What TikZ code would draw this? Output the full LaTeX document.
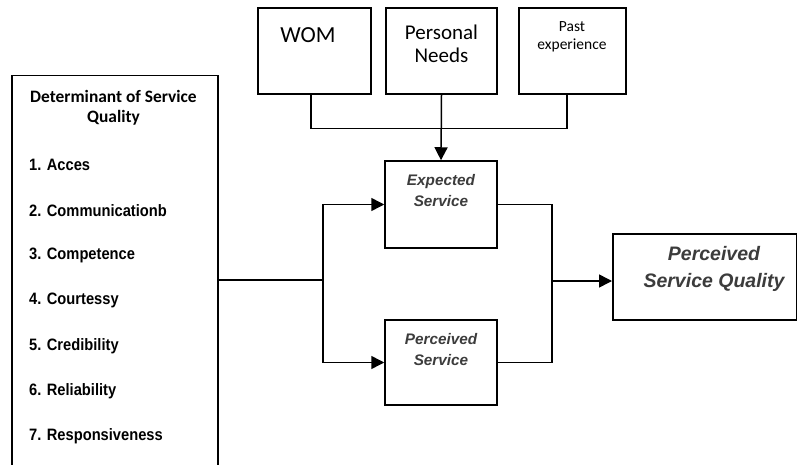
\documentclass[tikz,border=0pt]{standalone}
\usepackage{fontspec}
\setmainfont{Liberation Sans}
\newfontfamily\calib{Carlito}
\newfontfamily\narrowsans[FakeStretch=0.89]{Liberation Sans}
\usetikzlibrary{arrows.meta}
\definecolor{servgray}{HTML}{3C3C3C}
\tikzset{
  box/.style={draw=black, line width=1.5pt, fill=white, inner sep=0pt},
  wire/.style={draw=black, line width=1.5pt},
  arrow/.style={wire, -{Triangle[length=13pt,width=13pt]}},
  item/.style={anchor=west, inner sep=0pt, font=\narrowsans\bfseries\fontsize{16.5}{18}\selectfont},
  servtext/.style={align=center, inner sep=0pt, text=servgray,
    font=\bfseries\itshape\fontsize{15.3}{21}\selectfont},
}
\begin{document}
\begin{tikzpicture}[x=1pt, y=-1pt]
\clip (0,0) rectangle (797,465);
\fill[white] (0,0) rectangle (797,465);

% determinants of service quality (runs past the lower edge)
\node[box, minimum width=206pt, minimum height=420pt, anchor=north west] (det) at (11,75) {};
\node[align=center, inner sep=0pt, font=\calib\bfseries\fontsize{17.4}{20}\selectfont] (dettitle) at (113.5,108)
  {Determinant of Service\\Quality};
\foreach \t [count=\i from 0] in {1. Acces, 2. Communicationb, 3. Competence, 4. Courtessy,
  5. Credibility, 6. Reliability, 7. Responsiveness}
  \node[item] (it\i) at (29,165+45.2*\i) {\t};

% sources of expectation
\node[box, minimum width=113pt, minimum height=86pt] (wom) at (314.5,51) {};
\node[inner sep=0pt, font=\calib\fontsize{23}{26}\selectfont] (womtext) at (308,35) {WOM};
\node[box, minimum width=111pt, minimum height=86pt] (pn) at (441.5,51) {};
\node[align=center, inner sep=0pt, font=\calib\fontsize{21}{23}\selectfont] (pntext) at (441.5,44) {Personal\\Needs};
\node[box, minimum width=107pt, minimum height=86pt] (pe) at (572.5,51) {};
\node[align=center, inner sep=0pt, font=\calib\fontsize{15.5}{17.5}\selectfont] (petext) at (572,37) {Past\\experience};

% expected and perceived service
\node[box, minimum width=112pt, minimum height=87pt] (exp) at (441,204.5) {};
\node[servtext] (exptext) at (441,191) {Expected\\Service};
\node[box, minimum width=112pt, minimum height=85pt] (per) at (441,362.5) {};
\node[servtext] (pertext) at (441,349.5) {Perceived\\Service};

% perceived service quality
\node[box, minimum width=184pt, minimum height=86pt, anchor=north west] (psq) at (612,233) {};
\node[align=center, inner sep=0pt, text=servgray,
  font=\bfseries\itshape\fontsize{19.5}{27}\selectfont] (psqtext) at (714,269) {Perceived\\Service Quality};

% connectors
\coordinate (split) at (323,280);
\coordinate (merge) at (552,281);
\draw[wire] (det.east|-split) -- (split);
\draw[arrow] (split) |- (exp.west);
\draw[arrow] (split) |- (per.west);
\draw[wire] (exp.east) -| (merge) |- (per.east);
\draw[arrow] (merge) -- (psq.west|-merge);

\draw[wire] ([xshift=-3.5pt]wom.south) -- ++(0,34) -| ([xshift=-5.5pt]pe.south);
\draw[arrow] (pn.south) -- (exp.north);
\end{tikzpicture}
\end{document}
